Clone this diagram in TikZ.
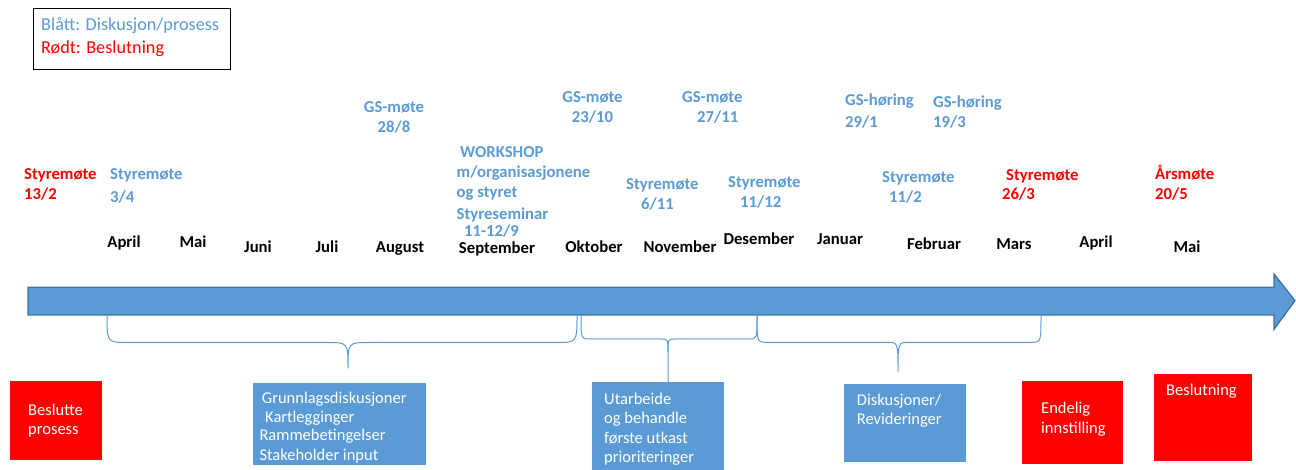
\documentclass[tikz,border=0pt]{standalone}
\usepackage{fontspec}
\setmainfont{Carlito}
\definecolor{pblue}{HTML}{5B9BD5}
\definecolor{pred}{HTML}{FF0000}
\definecolor{pedge}{HTML}{41719C}
\begin{document}
\begin{tikzpicture}[x=1pt,y=-1pt,
  lbl/.style={font=\bfseries\fontsize{16.7}{20}\selectfont, inner sep=0pt, anchor=base west, align=left},
  lblc/.style={lbl, anchor=base, align=center},
  bluetxt/.style={text=pblue},
  redtxt/.style={text=pred},
  month/.style={font=\bfseries\fontsize{16.7}{20}\selectfont, inner sep=0pt, anchor=base, text=black},
  boxtxt/.style={font=\fontsize{16.5}{19.5}\selectfont, text=white, inner sep=0pt, anchor=base west, align=left},
  legtxt/.style={font=\fontsize{18.2}{22}\selectfont, inner sep=0pt, anchor=base west},
  bluebox/.style={fill=pblue, draw=none, anchor=north west, inner sep=0pt},
  redbox/.style={fill=pred, draw=none, anchor=north west, inner sep=0pt},
  bracket/.style={draw=pblue, line width=1pt},
  timearrow/.style={fill=pblue, draw=pedge, line width=1.3pt, line join=miter}
]
\useasboundingbox (0,0) rectangle (1296,470);

% legend
\node[draw=black, line width=1.3pt, anchor=north west, inner sep=0pt, minimum width=197pt, minimum height=61pt] (legend) at (33,8) {};
\node[legtxt, text=pblue] (legblue) at (41,30.7) {Blått: Diskusjon/prosess};
\node[legtxt, text=pred] (legred) at (41,53.3) {Rødt: Beslutning};

% events above the timeline (anchored at the baseline of the last line)
\node[lbl, redtxt] (st132) at (24,199.3) {Styremøte\\[-0.7pt]13/2};
\node[lbl, bluetxt] (st34) at (110,202.5) {Styremøte\\[2.5pt]3/4};
\node[lblc, bluetxt] (gs288) at (394,133) {GS-møte\\28/8};
\node[lbl, bluetxt] (ws) at (456.5,237) {\hspace*{3.5pt}WORKSHOP\\m/organisasjonene\\og styret\\[2pt]Styreseminar\\[-3pt]\hspace*{7.5pt}11-12/9};
\node[lblc, bluetxt] (gs2310) at (592.5,123) {GS-møte\\23/10};
\node[lbl, bluetxt] (gs2711) at (682,123) {GS-møte\\\hspace*{15pt}27/11};
\node[lbl, bluetxt] (gh291) at (845,128) {GS-høring\\[2pt]29/1};
\node[lbl, bluetxt] (gh193) at (933,128) {GS-høring\\19/3};
\node[lbl, bluetxt] (st611) at (626,210) {Styremøte\\\hspace*{15pt}6/11};
\node[lbl, bluetxt] (st1112) at (728,208) {Styremøte\\\hspace*{12pt}11/12};
\node[lbl, bluetxt] (st112) at (882,203) {Styremøte\\\hspace*{7pt}11/2};
\node[lbl, redtxt] (st263) at (1002,200) {\hspace*{4pt}Styremøte\\[-1pt]26/3};
\node[lbl, redtxt] (aars) at (1155,200) {Årsmøte\\20/5};

% months
\node[month] (m1) at (124,248) {April};
\node[month] (m2) at (193,248) {Mai};
\node[month] (m3) at (258,253) {Juni};
\node[month] (m4) at (327,253) {Juli};
\node[month] (m5) at (400,253) {August};
\node[month] (m6) at (497,253.5) {September};
\node[month] (m7) at (594,253) {Oktober};
\node[month] (m8) at (680,253) {November};
\node[month] (m9) at (759,245) {Desember};
\node[month] (m10) at (840,245) {Januar};
\node[month] (m11) at (934,250) {Februar};
\node[month] (m12) at (1014,250) {Mars};
\node[month] (m13) at (1096,248) {April};
\node[month] (m14) at (1187,253) {Mai};

% timeline arrow
\draw[timearrow] (28,287.3) -- (1274,287.3) -- (1274,274) -- (1295,300.7) -- (1274,329.3) -- (1274,315) -- (28,315) -- cycle;

% boxes
\node[redbox, minimum width=92pt, minimum height=78.5pt] (bp) at (9.5,381) {};
\node[bluebox, minimum width=173pt, minimum height=82pt] (gr) at (253,383) {};
\node[bluebox, minimum width=132pt, minimum height=88pt] (ut) at (592,382) {};
\node[bluebox, minimum width=122pt, minimum height=78pt] (di) at (844,384) {};
\node[redbox, minimum width=100.5pt, minimum height=82.5pt] (en) at (1022,381) {};
\node[redbox, minimum width=98pt, minimum height=87pt] (be) at (1154,374) {};

% box texts (anchored at the baseline of the last line)
\node[boxtxt] (bptxt) at (28,434.5) {Beslutte\\[-0.7pt]prosess};
\node[boxtxt] (grtxt) at (259.3,460) {\hspace*{2.4pt}Grunnlagsdiskusjoner\\[-0.5pt]\hspace*{5.7pt}Kartlegginger\\[-1pt]Rammebetingelser\\Stakeholder input};
\node[boxtxt] (uttxt) at (604,462.5) {Utarbeide\\og behandle\\første utkast\\prioriteringer};
\node[boxtxt] (ditxt) at (856.7,424.3) {Diskusjoner/\\[-0.2pt]Revideringer};
\node[boxtxt] (entxt) at (1041,433.2) {Endelig\\innstilling};
\node[boxtxt] (betxt) at (1166,395) {Beslutning};

% brace anchor points
\coordinate (b1l) at (107,315);
\coordinate (b1r) at (577,315);
\coordinate (b1tip) at (348,368.3);
\coordinate (b2l) at (581,315);
\coordinate (b2r) at (757,315);
\coordinate (b2tip) at (668,382);
\coordinate (b3l) at (757,315);
\coordinate (b3r) at (1041,315);
\coordinate (b3tip) at (898,371.7);

% braces
\draw[bracket] (b1l) .. controls (107,342.5) .. (128,342.5) -- (327,342.5)
  .. controls (348,342.5) .. (b1tip) .. controls (348,342.5) .. (369,342.5)
  -- (556,342.5) .. controls (577,342.5) .. (b1r);
\draw[bracket] (b2l) .. controls (581,339) .. (589,339) -- (660,339)
  .. controls (668,339) .. (668,352) -- (b2tip);
\draw[bracket] (668,352) .. controls (668,339) .. (676,339) -- (749,339)
  .. controls (757,339) .. (b2r);
\draw[bracket] (b3l) .. controls (757,342.3) .. (767,342.3) -- (887,342.3)
  .. controls (898,342.3) .. (b3tip) .. controls (898,342.3) .. (909,342.3)
  -- (1031,342.3) .. controls (1041,342.3) .. (b3r);
\end{tikzpicture}
\end{document}
